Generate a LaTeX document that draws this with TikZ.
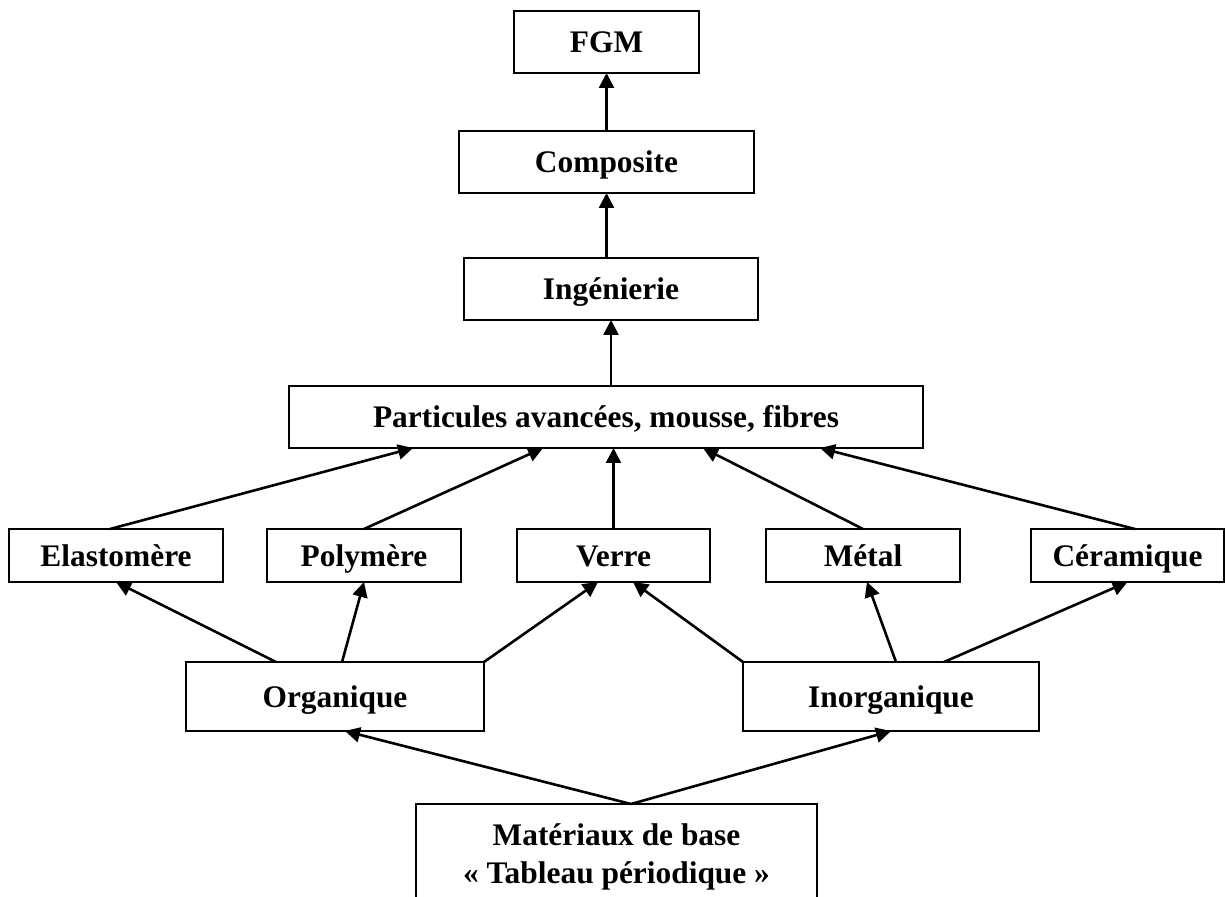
\documentclass[tikz,border=0pt]{standalone}
\usepackage{fontspec}
\setmainfont{Liberation Serif}
\usetikzlibrary{positioning,arrows.meta,calc}
\tikzset{
  box/.style={
    draw, line width=0.9pt, inner sep=0pt, outer sep=0pt, minimum height=31pt,
    font=\bfseries\fontsize{15.7}{18.8}\selectfont,
    text height=10.7pt, text depth=0pt
  },
  matbox/.style={box, minimum height=26.5pt},
  familybox/.style={box, minimum height=34.5pt},
  basebox/.style={
    draw, line width=0.9pt, outer sep=0pt, minimum width=200.5pt, minimum height=52.5pt,
    align=center, font=\bfseries\fontsize{15.7}{19}\selectfont
  },
  arr/.style={
    -{Triangle[length=7.5pt,width=7.5pt]}, line width=1.3pt
  }
}
\begin{document}
\begin{tikzpicture}[x=0.5pt, y=-0.5pt]
\useasboundingbox (0,0) rectangle (1225,897);

% upper chain
\node[box, minimum width=317pt] (part) at (606,417) {Particules avancées, mousse, fibres};
\node[box, minimum width=147pt, above=33pt of part, xshift=2.5pt] (ing) {Ingénierie};
\node[box, minimum width=147.5pt, above=32.5pt of ing, xshift=-2.25pt] (comp) {Composite};
\node[box, minimum width=92.5pt, above=29pt of comp] (fgm) {FGM};

% materials
\node[matbox, minimum width=96.5pt, below=40.5pt of part, xshift=3.75pt] (verre) {Verre};
\node[matbox, minimum width=97pt, left=28pt of verre] (poly) {Polymère};
\node[matbox, minimum width=107pt, left=22pt of poly] (elast) {Elastomère};
\node[matbox, minimum width=97pt, right=28pt of verre] (metal) {Métal};
\node[matbox, minimum width=96.5pt, right=35.5pt of metal] (ceram) {Céramique};

% families
\node[familybox, minimum width=149pt, below=40pt of poly, xshift=-14.5pt] (org) {Organique};
\node[familybox, minimum width=148pt, right=129.5pt of org] (inorg) {Inorganique};

% base
\coordinate (mid) at ($(org.south)!0.5!(inorg.south)$);
\node[basebox, below=36.5pt of mid, xshift=1.75pt] (base) {Matériaux de base\\« Tableau périodique »};

\draw[arr] (comp.north) -- (fgm.south);
\draw[arr] (ing.north -| comp.south) -- (comp.south);
\draw[arr] (part.north -| ing.south) -- (ing.south);

\draw[arr] ([xshift=-3pt]elast.north) -- ([xshift=-96.5pt]part.south);
\draw[arr] (poly.north) -- ([xshift=-31.5pt]part.south);
\draw[arr] (verre.north) -- (verre.north |- part.south);
\draw[arr] (metal.north) -- ([xshift=48.5pt]part.south);
\draw[arr] ([xshift=3.75pt]ceram.north) -- ([xshift=107pt]part.south);

\draw[arr] ([xshift=-29.5pt]org.north) -- (elast.south);
\draw[arr] ([xshift=3.5pt]org.north) -- (poly.south);
\draw[arr] (org.north east) -- ([xshift=-7.75pt]verre.south);
\draw[arr] (inorg.north west) -- ([xshift=9.75pt]verre.south);
\draw[arr] ([xshift=2.5pt]inorg.north) -- ([xshift=2pt]metal.south);
\draw[arr] ([xshift=26.5pt]inorg.north) -- (ceram.south);

\draw[arr] ([xshift=7.25pt]base.north) -- ([xshift=5pt]org.south);
\draw[arr] ([xshift=7.25pt]base.north) -- (inorg.south);
\end{tikzpicture}
\end{document}
